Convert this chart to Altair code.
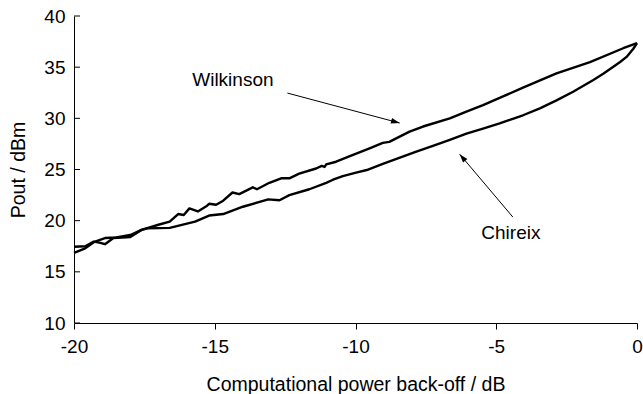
import altair as alt
import pandas as pd

# Wilkinson combiner curve
wil_x = [-20, -19.6, -19.3, -18.9, -18.5, -18.0, -17.6, -17.0, -16.6, -16.3, -16.1,
         -15.9, -15.6, -15.3, -15.2, -14.95, -14.7, -14.37, -14.13, -13.65, -13.5,
         -13.06, -12.64, -12.35, -12.0, -11.4, -11.2, -11.1, -11.04, -10.69, -10.2,
         -9.5, -9.03, -8.8, -8.08, -7.6, -6.65, -6.06, -5.47, -4.88, -4.05, -2.86,
         -1.67, -0.49, 0]
wil_y = [16.85, 17.3, 17.9, 18.3, 18.35, 18.6, 19.1, 19.6, 19.9, 20.65, 20.55,
         21.2, 20.9, 21.4, 21.65, 21.55, 21.95, 22.75, 22.6, 23.26, 23.07,
         23.7, 24.14, 24.14, 24.6, 25.1, 25.35, 25.25, 25.5, 25.76, 26.3,
         27.07, 27.6, 27.7, 28.7, 29.2, 30.0, 30.65, 31.3, 32.0, 33.0, 34.4,
         35.5, 36.85, 37.35]

# Chireix combiner curve
chi_x = [-20, -19.6, -19.3, -19.1, -18.9, -18.6, -18.0, -17.6, -17.4, -16.6, -15.7,
         -15.2, -14.7, -14.0, -13.1, -12.7, -12.35, -11.64, -11.04, -10.8, -10.45,
         -9.98, -9.6, -9.03, -7.84, -7.25, -6.65, -6.06, -5.47, -4.88, -4.05,
         -3.45, -2.86, -2.27, -1.55, -1.2, -0.84, -0.6, -0.37, -0.13, 0]
chi_y = [17.45, 17.5, 17.95, 17.85, 17.7, 18.3, 18.4, 19.1, 19.25, 19.3, 19.9,
         20.5, 20.65, 21.36, 22.08, 22.0, 22.5, 23.07, 23.7, 24.0, 24.36,
         24.7, 24.95, 25.54, 26.74, 27.3, 27.9, 28.5, 29.0, 29.5, 30.3,
         30.98, 31.75, 32.6, 33.75, 34.35, 35.05, 35.5, 36.0, 36.8, 37.35]

x_ticks = [-20, -15, -10, -5, 0]
y_ticks = [10, 15, 20, 25, 30, 35, 40]

# annotations
ann_label = ["Wilkinson", "Chireix"]
ann_tx = [-15.8, -4.48]
ann_ty = [33.75, 18.8]
arrow_x1 = [-12.42, -4.41]
arrow_y1 = [32.47, 20.35]
arrow_x2 = [-8.43, -6.3]
arrow_y2 = [29.54, 26.5]
arrow_angle = [105, 320]

FONT = "Liberation Sans"

curves = pd.concat([
    pd.DataFrame({"x": wil_x, "y": wil_y, "s": "Wilkinson"}),
    pd.DataFrame({"x": chi_x, "y": chi_y, "s": "Chireix"}),
])
ann = pd.DataFrame({"label": ann_label, "tx": ann_tx, "ty": ann_ty,
                    "x1": arrow_x1, "y1": arrow_y1, "x2": arrow_x2, "y2": arrow_y2,
                    "angle": arrow_angle})

xs = alt.Scale(domain=[-20, 0], nice=False, zero=False)
ys = alt.Scale(domain=[10, 40], nice=False, zero=False)

lines = alt.Chart(curves).mark_line(color="black", strokeWidth=2.4, strokeJoin="round").encode(
    x=alt.X("x:Q", scale=xs, title="Computational power back-off / dB",
            axis=alt.Axis(values=x_ticks, grid=False, domainColor="black", tickColor="black",
                          tickSize=6, labelPadding=23, labelBaseline="alphabetic",
                          labelExpr="datum.value + ''",
                          labelFontSize=19, labelColor="black", labelFont=FONT,
                          titleFontSize=19.5, titleFont=FONT, titleFontWeight="normal",
                          titleColor="black", titleBaseline="alphabetic", titleY=67,
                          titleX=281.5, labelFlush=False)),
    y=alt.Y("y:Q", scale=ys, title="Pout / dBm",
            axis=alt.Axis(values=y_ticks, grid=False, domainColor="black", ticks=False,
                          tickSize=0, labelPadding=9, labelFontSize=19, labelColor="black",
                          labelExpr="datum.value + ''",
                          labelFont=FONT, titleFontSize=19.5, titleFont=FONT,
                          titleFontWeight="normal", titleColor="black",
                          titleBaseline="alphabetic", titleAngle=270, titleX=-50,
                          titleY=153.5, labelFlush=False)),
    detail="s:N",
)

yticks = alt.Chart(pd.DataFrame({"v": y_ticks})).mark_rule(color="black", strokeWidth=1).encode(
    y=alt.Y("v:Q", scale=ys),
    x=alt.value(0),
    x2=alt.value(6),
)

arrows = alt.Chart(ann).mark_rule(color="black", strokeWidth=1).encode(
    x=alt.X("x1:Q", scale=xs), y=alt.Y("y1:Q", scale=ys),
    x2="x2:Q", y2="y2:Q",
)

heads = alt.Chart(ann).mark_point(shape="M0,0L-0.33,1L0.33,1Z", filled=True, color="black",
                                  opacity=1, size=300, strokeWidth=0).encode(
    x=alt.X("x2:Q", scale=xs), y=alt.Y("y2:Q", scale=ys),
    angle=alt.Angle("angle:Q", scale=None),
)

text_w = alt.Chart(ann.iloc[[0]]).mark_text(align="left", baseline="middle", fontSize=19,
                                            font=FONT, color="black").encode(
    x=alt.X("tx:Q", scale=xs), y=alt.Y("ty:Q", scale=ys), text="label:N")
text_c = alt.Chart(ann.iloc[[1]]).mark_text(align="center", baseline="middle", fontSize=19,
                                            font=FONT, color="black").encode(
    x=alt.X("tx:Q", scale=xs), y=alt.Y("ty:Q", scale=ys), text="label:N")

chart = alt.layer(lines, yticks, arrows, heads, text_w, text_c).properties(
    width=563, height=307,
    autosize=alt.AutoSizeParams(type="none"),
    padding={"left": 74, "top": 16, "right": 6, "bottom": 71},
    background="white",
).configure_view(stroke=None)

chart.save("out.html", embed_options={"renderer": "svg", "actions": False})
